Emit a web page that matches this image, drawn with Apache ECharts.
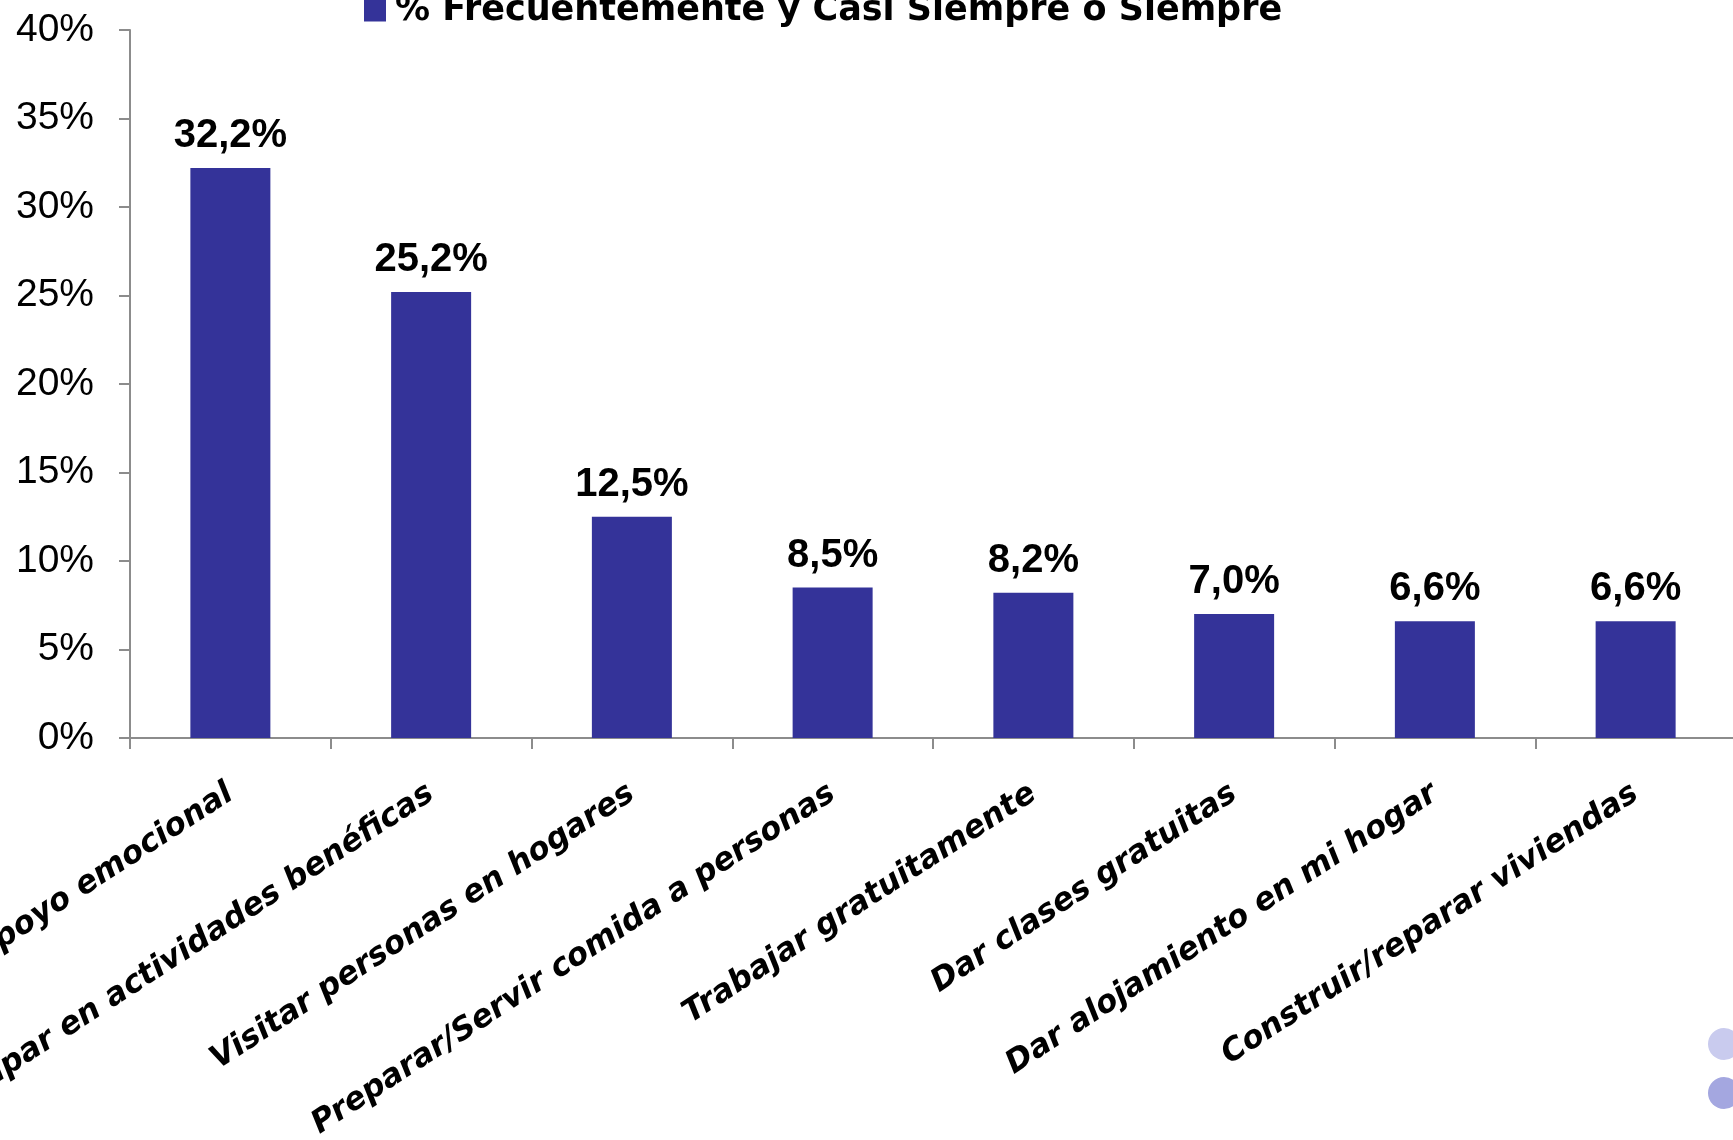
<!DOCTYPE html>
<html><head><meta charset="utf-8">
<script src="https://cdn.jsdelivr.net/npm/echarts@6/dist/echarts.min.js"></script>
<style>html,body{margin:0;padding:0;background:#fff}#c{width:1733px;height:1140px}</style>
</head><body><div id="c"></div>
<script>
const categories = ["Dar apoyo emocional","Participar en actividades benéficas","Visitar personas en hogares","Preparar/Servir comida a personas","Trabajar gratuitamente","Dar clases gratuitas","Dar alojamiento en mi hogar","Construir/reparar viviendas"];
const values = [32.2, 25.2, 12.5, 8.5, 8.2, 7.0, 6.6, 6.6];
const seriesName = "% Frecuentemente y Casi Siempre o Siempre";
const yTicks = [0,5,10,15,20,25,30,35,40];

const chart = echarts.init(document.getElementById('c'), null, {renderer:'canvas'});
chart.setOption({
  animation:false,
  backgroundColor:'#fff',
  legend:{
    data:[seriesName], left:359, top:-12, icon:'rect', itemWidth:22, itemHeight:22, itemGap:14,
    textStyle:{fontFamily:'DejaVu Sans', fontWeight:'bold', fontSize:35, color:'#000', padding:[0,0,0,4]}
  },
  grid:{left:130, top:30, width:1606, height:708, containLabel:false, outerBoundsMode:'none'},
  xAxis:{
    type:'category', data:categories,
    axisLine:{lineStyle:{color:'#8c8c8c', width:2}},
    axisTick:{show:true, length:11, lineStyle:{color:'#8c8c8c', width:2}},
    axisLabel:{rotate:33, interval:0, margin:53, fontFamily:'DejaVu Sans', fontWeight:'bold', fontStyle:'italic', fontSize:31.5, color:'#000'}
  },
  yAxis:{
    type:'value', min:yTicks[0], max:yTicks[yTicks.length-1], interval:5,
    axisLine:{show:true, lineStyle:{color:'#8c8c8c', width:2}},
    axisTick:{show:true, length:11, lineStyle:{color:'#8c8c8c', width:2}},
    splitLine:{show:false},
    axisLabel:{formatter:'{value}%', margin:36, fontFamily:'Liberation Sans', fontSize:39, color:'#000'}
  },
  series:[{
    name:seriesName, type:'bar', data:values, barWidth:80,
    itemStyle:{color:'#343399'},
    label:{show:true, position:'top', distance:12, fontFamily:'Liberation Sans', fontWeight:'bold', fontSize:40, color:'#000',
      formatter:p=>p.value.toFixed(1).replace('.',',')+'%'}
  }],
  graphic:[
    {type:'circle', shape:{cx:1724, cy:1044, r:16}, style:{fill:'#c9cbee'}},
    {type:'circle', shape:{cx:1724, cy:1093, r:16}, style:{fill:'#a4a7e0'}}
  ]
});
</script></body></html>
